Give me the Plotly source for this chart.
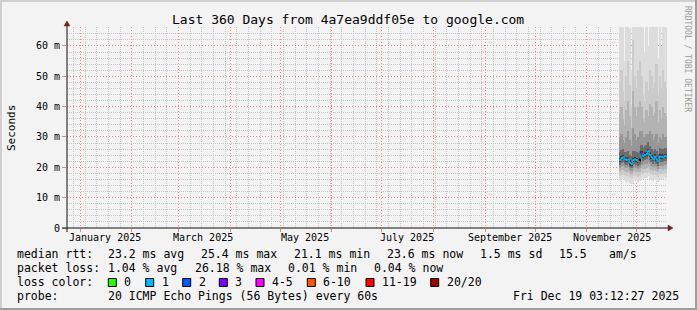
import plotly.graph_objects as go
import pandas as pd

# ---------------- data ----------------
x_start = "2024-12-24 03:12:27"
x_end = "2025-12-19 03:12:27"

days = pd.date_range("2025-11-21", periods=29, freq="D")

median = [22.4, 23.0, 23.3, 22.6, 22.4, 22.6, 21.5, 21.1, 22.4, 22.6, 22.4, 21.9, 22.4, 24.6,
          23.7, 24.1, 24.4, 25.4, 24.1, 23.3, 22.6, 23.5, 22.6, 21.9, 23.5, 23.5, 23.3, 23.7, 23.6]
loss = [1, 1, 1, 1, 1, 1, 1, 1, 1, 1, 1, 6, None, 3,
        1, 1, 1, 1, 1, 1, 1, 1, 1, 1, 1, 1, 1, 1, 1]

ping_max = [72, 70, 68, 55, 70, 72, 66, 52, 75, 70, 68, 70, 72, 70, 66, 58, 70, 60, 72, 70, 68,
            70, 72, 56, 70, 60, 72, 70, 68]
ping_p95 = [48, 52, 45, 42, 50, 55, 47, 40, 62, 50, 46, 52, 55, 50, 44, 42, 48, 45, 52, 50, 46,
            48, 54, 44, 50, 46, 52, 48, 46]
ping_p85 = [38, 40, 36, 34, 39, 42, 37, 33, 45, 40, 37, 40, 42, 40, 36, 35, 39, 37, 41, 40, 37,
            38, 42, 35, 39, 36, 40, 38, 37]
ping_p75 = [30, 31, 29, 28, 30, 32, 29, 27, 33, 31, 29, 30, 32, 32, 30, 30, 31, 31, 32, 31, 29,
            30, 31, 28, 30, 29, 31, 30, 30]
ping_p65 = [25.2, 25.8, 26.0, 25.1, 25.0, 25.3, 24.2, 23.9, 25.4, 25.5, 25.0, 24.6, 25.3, 27.5,
            26.5, 27.0, 27.2, 28.2, 26.9, 26.0, 25.3, 26.2, 25.4, 24.5, 26.3, 26.1, 26.0, 26.4, 26.3]
ping_p55 = [23.2, 23.8, 24.1, 23.4, 23.2, 23.4, 22.3, 21.9, 23.2, 23.4, 23.2, 22.7, 23.2, 25.4,
            24.5, 24.9, 25.2, 26.2, 24.9, 24.1, 23.4, 24.3, 23.4, 22.7, 24.3, 24.3, 24.1, 24.5, 24.4]
ping_p45 = [21.8, 22.4, 22.7, 22.0, 21.8, 22.0, 20.9, 20.5, 21.8, 22.0, 21.8, 21.3, 21.8, 23.9,
            23.1, 23.5, 23.8, 24.7, 23.5, 22.7, 22.0, 22.9, 22.0, 21.3, 22.9, 22.9, 22.7, 23.1, 23.0]
ping_p35 = [20.9, 21.5, 21.8, 21.1, 20.9, 21.1, 20.1, 19.7, 20.9, 21.1, 20.9, 20.4, 20.9, 22.8,
            22.1, 22.5, 22.8, 23.6, 22.5, 21.8, 21.1, 21.9, 21.1, 20.4, 21.9, 21.9, 21.8, 22.1, 22.0]
ping_p25 = [19.8, 20.3, 20.5, 20.0, 19.8, 20.0, 19.1, 18.8, 19.8, 20.0, 19.8, 19.4, 19.8, 21.2,
            20.7, 21.0, 21.2, 21.8, 21.0, 20.5, 20.0, 20.6, 20.0, 19.4, 20.6, 20.6, 20.5, 20.8, 20.7]
ping_p15 = [18.6, 19.0, 19.2, 18.8, 18.6, 18.8, 18.0, 17.8, 18.6, 18.8, 18.6, 18.3, 18.6, 19.8,
            19.4, 19.6, 19.8, 20.2, 19.6, 19.2, 18.8, 19.3, 18.8, 18.3, 19.3, 19.3, 19.2, 19.5, 19.4]
ping_p05 = [17.2, 17.6, 17.8, 17.4, 17.2, 17.4, 16.7, 16.4, 17.2, 17.4, 17.2, 16.9, 17.2, 18.2,
            17.9, 18.0, 18.2, 18.5, 18.0, 17.8, 17.4, 17.8, 17.4, 16.9, 17.8, 17.8, 17.7, 18.0, 17.9]
ping_min = [15.5, 16.0, 16.4, 15.8, 15.2, 15.6, 14.8, 14.5, 15.3, 15.8, 15.5, 15.0, 15.4, 16.5,
            16.2, 16.4, 16.6, 17.0, 16.3, 16.0, 15.6, 16.2, 15.7, 15.2, 16.2, 16.3, 16.1, 16.5, 16.4]

y_ticks = [0, 10, 20, 30, 40, 50, 60]
y_ticktext = ["0", "10 m", "20 m", "30 m", "40 m", "50 m", "60 m"]
y_minor = [2, 4, 6, 8, 12, 14, 16, 18, 22, 24, 26, 28, 32, 34, 36, 38, 42, 44, 46, 48,
           52, 54, 56, 58, 62, 64]
month_pos = ["2025-01-16", "2025-03-16", "2025-05-16", "2025-07-16", "2025-09-16", "2025-11-16"]
month_labels = ["January 2025", "March 2025", "May 2025", "July 2025", "September 2025", "November 2025"]

title = "Last 360 Days from 4a7ea9ddf05e to google.com"
legend_rows = [
    [(16, "median rtt:"), (107.3, "23.2 ms avg"), (200, "25.4 ms max"), (293.3, "21.1 ms min"),
     (386, "23.6 ms now"), (479.3, "1.5 ms sd"), (558.3, "15.5"), (607.7, "am/s")],
    [(16, "packet loss:"), (107.3, "1.04 % avg"), (194, "26.18 % max"), (286.5, "0.01 % min"),
     (372.7, "0.04 % now")],
]
loss_labels = ["0", "1", "2", "3", "4-5", "6-10", "11-19", "20/20"]
loss_colors = ["#26ff00", "#00b8ff", "#0059ff", "#7e00ff", "#ff00ff", "#ff5500", "#ff0000", "#a10000"]
probe_text = "20 ICMP Echo Pings (56 Bytes) every 60s"
stamp_text = "Fri Dec 19 03:12:27 2025"

# ---------------- layout helpers ----------------
W, H = 697, 310
L, R, T, B = 67, 667, 27, 228
FONT = "DejaVu Sans Mono"


def px(x):
    return (x - L) / (R - L)


def py(y):
    return (B - y) / (B - T)


def color_for(n):
    if n is None:
        return "#000000"
    if n <= 3:
        return loss_colors[n]
    if n <= 5:
        return loss_colors[4]
    if n <= 10:
        return loss_colors[5]
    if n <= 19:
        return loss_colors[6]
    return loss_colors[7]


DAY_MS = 86400000
HALF = pd.Timedelta(hours=12)

fig = go.Figure()

bands = [
    (ping_min, ping_max, "#dcdcdc"),
    (ping_p05, ping_p95, "#cbcbcb"),
    (ping_p15, ping_p85, "#b3b3b3"),
    (ping_p25, ping_p75, "#979797"),
    (ping_p35, ping_p65, "#6c6c6c"),
    (ping_p45, ping_p55, "#3a3a3a"),
]
for lo, hi, c in bands:
    fig.add_trace(go.Bar(
        x=days, y=[h - l for l, h in zip(lo, hi)], base=lo, width=DAY_MS,
        marker=dict(color=c, line=dict(width=0)), hoverinfo="skip", showlegend=False))

edges = [d - HALF for d in days] + [days[-1] + HALF]
fig.add_trace(go.Scatter(x=edges, y=median + [median[-1]], mode="lines",
                         line=dict(color=loss_colors[1], width=1, shape="hv"),
                         hoverinfo="skip", showlegend=False))
groups = {}
for d, m, n in zip(days, median, loss):
    c = color_for(n)
    gx, gy = groups.setdefault(c, ([], []))
    gx += [d - HALF, d + HALF, None]
    gy += [m, m, None]
for c, (gx, gy) in groups.items():
    fig.add_trace(go.Scatter(x=gx, y=gy, mode="lines", line=dict(color=c, width=2),
                             hoverinfo="skip", showlegend=False))

MAJ = "#ee8585"
MIN = "#c4c4c4"

fig.update_layout(
    width=W, height=H, autosize=False,
    margin=dict(l=L, r=W - R, t=T, b=H - B, pad=0),
    paper_bgcolor="#f3f3f3", plot_bgcolor="#f3f3f3",
    barmode="overlay", bargap=0, showlegend=False,
    font=dict(family=FONT, size=10, color="#000000"),
    xaxis=dict(type="date", range=[x_start, x_end], dtick="M1", tick0="2025-01-01",
               showgrid=True, gridcolor=MAJ, gridwidth=1, griddash="1px,2px",
               showticklabels=False, ticks="outside", ticklen=3, tickcolor=MAJ,
               zeroline=False, showline=False, fixedrange=True,
               minor=dict(dtick=7 * DAY_MS, tick0="2025-01-04", showgrid=True,
                          gridcolor=MIN, griddash="1px,1px", ticks="")),
    yaxis=dict(range=[0, 66.26], tickmode="array", tickvals=y_ticks, ticktext=y_ticktext,
               showgrid=True, gridcolor=MAJ, gridwidth=1, griddash="1px,2px",
               ticks="outside", ticklen=4, tickcolor=MAJ, zeroline=False, showline=False,
               tickfont=dict(family=FONT, size=10, color="#000000"), fixedrange=True,
               minor=dict(tickmode="array", tickvals=y_minor, showgrid=True, gridcolor=MIN,
                          griddash="1px,1px", ticks="")),
)

ann = []
ann.append(dict(text=title, xref="paper", yref="paper", x=px(348), y=py(19.5),
                xanchor="center", yanchor="middle", showarrow=False,
                font=dict(family=FONT, size=13, color="#000000")))
ann.append(dict(text="Seconds", xref="paper", yref="paper", x=px(11), y=py(128),
                xanchor="center", yanchor="middle", showarrow=False, textangle=-90,
                font=dict(family=FONT, size=11, color="#000000")))
ann.append(dict(text="RRDTOOL / TOBI OETIKER", xref="paper", yref="paper", x=px(688), y=py(59),
                xanchor="center", yanchor="middle", showarrow=False, textangle=90,
                font=dict(family=FONT, size=8, color="#9a9a9a")))
for pos, lab in zip(month_pos, month_labels):
    ann.append(dict(text=lab, xref="x", yref="paper", x=pos, y=py(237.5),
                    xanchor="center", yanchor="middle", showarrow=False,
                    font=dict(family=FONT, size=10, color="#000000")))

LEG = dict(family=FONT, size=11.5, color="#000000")
row_y = [254, 268, 282, 296]
for r, row in enumerate(legend_rows):
    for x, t in row:
        ann.append(dict(text=t, xref="paper", yref="paper", x=px(x - 1), y=py(row_y[r]),
                        xanchor="left", yanchor="middle", showarrow=False, font=LEG))
ann.append(dict(text="loss color:", xref="paper", yref="paper", x=px(15), y=py(row_y[2]),
                xanchor="left", yanchor="middle", showarrow=False, font=LEG))
box_x = [108.3, 145.7, 182.7, 219.3, 256, 307.3, 366, 430.7]
shapes = []
for bx, lab, c in zip(box_x, loss_labels, loss_colors):
    shapes.append(dict(type="rect", xref="paper", yref="paper", x0=px(bx), x1=px(bx + 8),
                       y0=py(286.5), y1=py(278.5), fillcolor=c, line=dict(color="#000000", width=1)))
    ann.append(dict(text=lab, xref="paper", yref="paper", x=px(bx + 14), y=py(row_y[2]),
                    xanchor="left", yanchor="middle", showarrow=False, font=LEG))
ann.append(dict(text="probe:", xref="paper", yref="paper", x=px(15), y=py(row_y[3]),
                xanchor="left", yanchor="middle", showarrow=False, font=LEG))
ann.append(dict(text=probe_text, xref="paper", yref="paper", x=px(106.3), y=py(row_y[3]),
                xanchor="left", yanchor="middle", showarrow=False, font=LEG))
ann.append(dict(text=stamp_text, xref="paper", yref="paper", x=px(681), y=py(row_y[3]),
                xanchor="right", yanchor="middle", showarrow=False, font=LEG))

AX = "#101010"
ARROW = "#7f1f1f"
shapes += [
    dict(type="line", xref="paper", yref="paper", x0=px(62), x1=px(668), y0=py(228), y1=py(228),
         line=dict(color=AX, width=1)),
    dict(type="line", xref="paper", yref="paper", x0=px(67), x1=px(67), y0=py(232), y1=py(26),
         line=dict(color=AX, width=1)),
    dict(type="path", xref="paper", yref="paper",
         path=f"M{px(64)},{py(26)} L{px(70)},{py(26)} L{px(67)},{py(21)} Z",
         fillcolor=ARROW, line=dict(color=ARROW, width=0.5)),
    dict(type="path", xref="paper", yref="paper",
         path=f"M{px(668)},{py(225)} L{px(668)},{py(231)} L{px(673)},{py(228)} Z",
         fillcolor=ARROW, line=dict(color=ARROW, width=0.5)),
    dict(type="rect", xref="paper", yref="paper", x0=px(0), x1=px(W), y0=py(0), y1=py(2),
         fillcolor="#cfcfcf", line=dict(width=0)),
    dict(type="rect", xref="paper", yref="paper", x0=px(0), x1=px(2), y0=py(0), y1=py(H),
         fillcolor="#cfcfcf", line=dict(width=0)),
    dict(type="rect", xref="paper", yref="paper", x0=px(0), x1=px(W), y0=py(H - 2), y1=py(H),
         fillcolor="#9e9e9e", line=dict(width=0)),
    dict(type="rect", xref="paper", yref="paper", x0=px(W - 2), x1=px(W), y0=py(0), y1=py(H),
         fillcolor="#9e9e9e", line=dict(width=0)),
]

fig.update_layout(annotations=ann, shapes=shapes)
fig.write_html("out.html")
